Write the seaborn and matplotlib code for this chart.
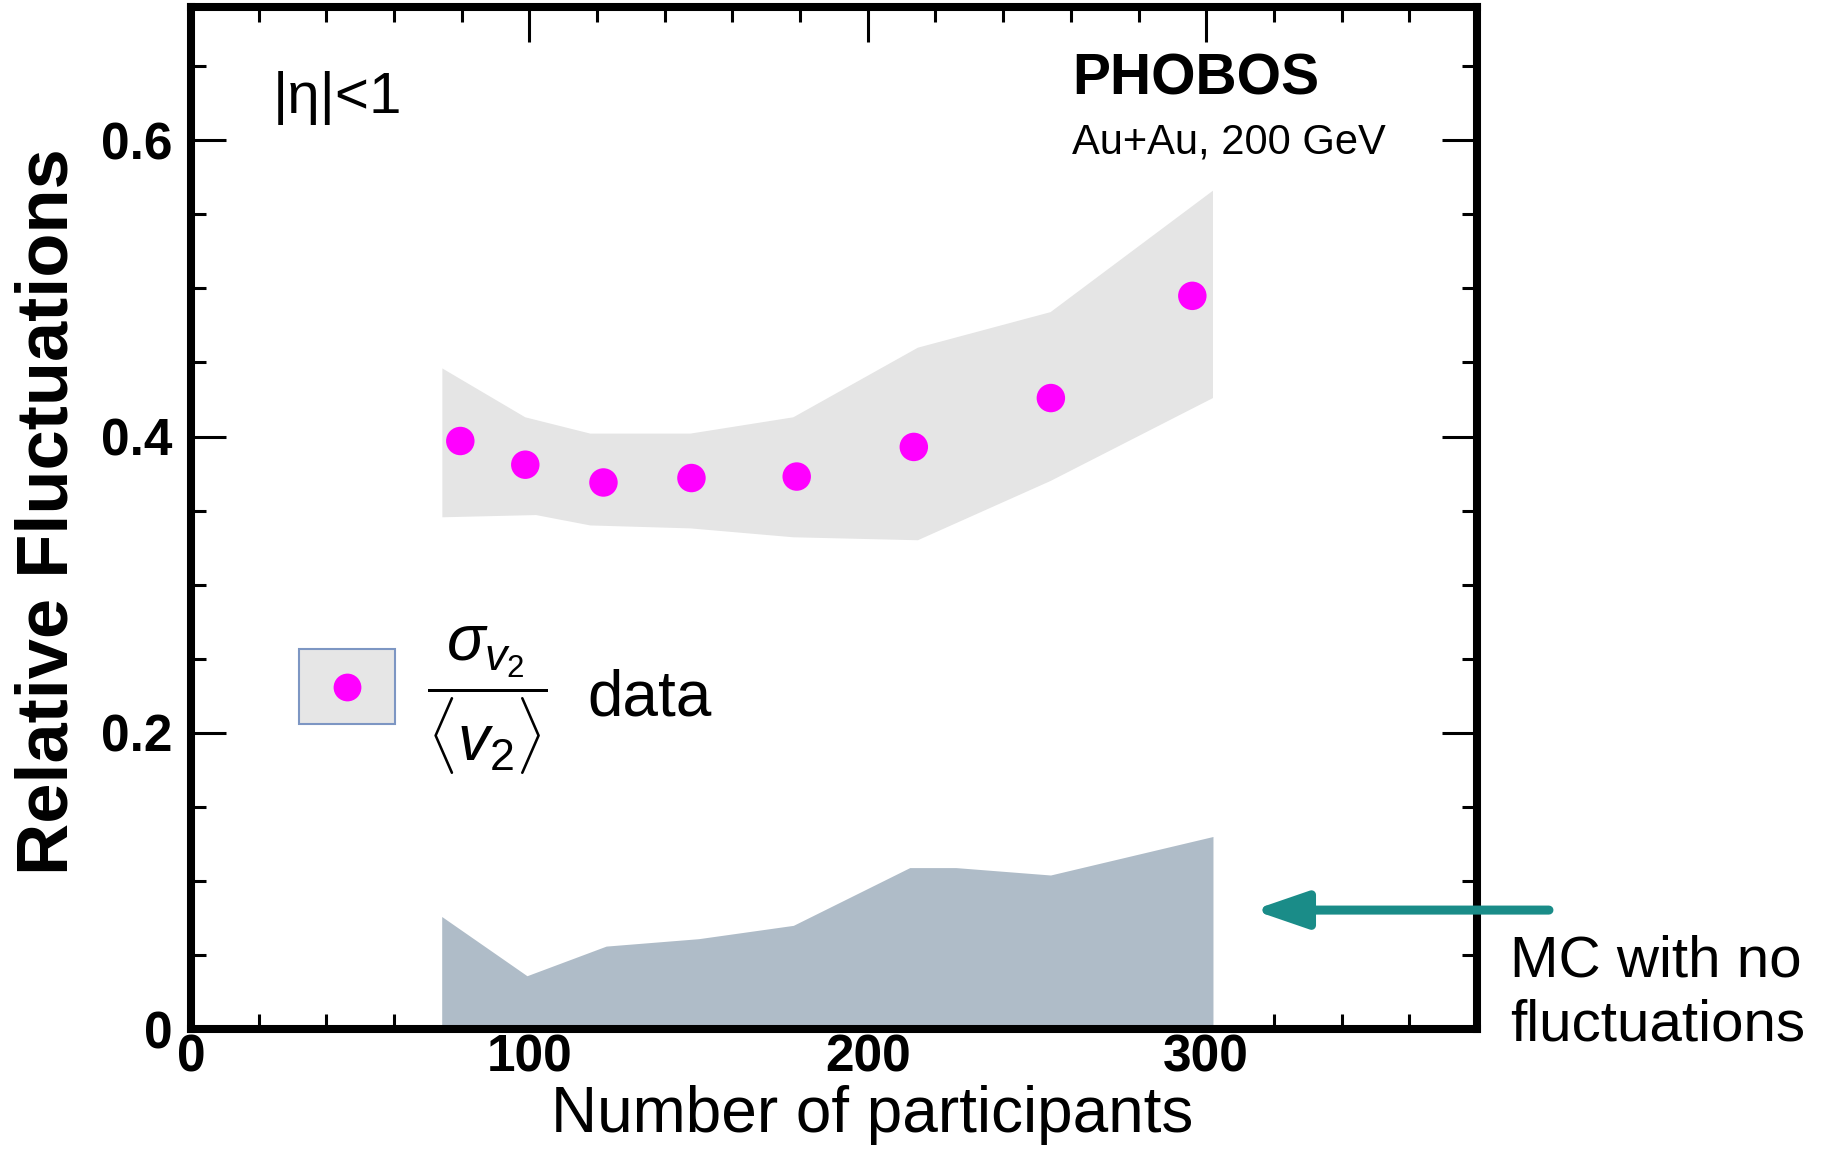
import numpy as np
import pandas as pd
import matplotlib
matplotlib.use("Agg")
import matplotlib.pyplot as plt
import seaborn as sns
from matplotlib import font_manager as fm
from matplotlib.patches import Patch, ArrowStyle
from matplotlib.lines import Line2D
from matplotlib.legend_handler import HandlerTuple, HandlerLine2D
from matplotlib.ticker import MultipleLocator

# Relative elliptic-flow fluctuations vs. centrality (mean Npart per bin)
npart = [79.6, 98.8, 121.9, 147.9, 179.0, 213.6, 254.1, 295.9]
rel_fluct = [0.397, 0.381, 0.369, 0.372, 0.373, 0.393, 0.426, 0.495]

# Systematic-uncertainty band of the data (upper / lower edges)
band_up_npart = [74.3, 98.8, 118.0, 147.6, 178.0, 214.8, 254.0, 302.0]
band_up = [0.446, 0.413, 0.402, 0.402, 0.413, 0.460, 0.484, 0.566]
band_lo_npart = [74.3, 102.0, 118.0, 147.6, 178.0, 214.8, 254.0, 302.0]
band_lo = [0.3455, 0.347, 0.340, 0.338, 0.332, 0.330, 0.370, 0.426]

# Monte Carlo without intrinsic fluctuations (upper edge of shaded region)
mc_npart = [74.1, 99.3, 122.7, 150.0, 178.0, 212.4, 226.0, 254.0, 302.0]
mc_fluct = [0.076, 0.036, 0.056, 0.061, 0.070, 0.109, 0.109, 0.104, 0.130]

x_ticks = [0, 100, 200, 300]
x_tick_labels = ["0", "100", "200", "300"]
y_ticks = [0, 0.2, 0.4, 0.6]
y_tick_labels = ["0", "0.2", "0.4", "0.6"]

sns.set_theme(style="ticks")
plt.rcParams["font.family"] = ["Liberation Sans", "DejaVu Sans"]
plt.rcParams["text.color"] = "black"
plt.rcParams["axes.labelcolor"] = "black"
plt.rcParams["axes.edgecolor"] = "black"
plt.rcParams["xtick.color"] = "black"
plt.rcParams["ytick.color"] = "black"
plt.rcParams["mathtext.fontset"] = "custom"
plt.rcParams["mathtext.rm"] = "Liberation Sans"
plt.rcParams["mathtext.it"] = "Liberation Sans:italic"
plt.rcParams["mathtext.bf"] = "Liberation Sans:bold"

# condensed bold face for the tick numbers when available
installed = {f.name for f in fm.fontManager.ttflist}
if "Liberation Sans Narrow" in installed:
    tick_font = dict(fontsize=41, fontweight="bold", family="Liberation Sans Narrow")
else:
    tick_font = dict(fontsize=37, fontweight="bold", family="Liberation Sans")


class CenteredMarkerHandler(HandlerLine2D):
    """Legend marker centred vertically on the key box."""

    def create_artists(self, legend, orig_handle, xdescent, ydescent,
                       width, height, fontsize, trans):
        artists = super().create_artists(legend, orig_handle, xdescent, ydescent,
                                         width, height, fontsize, trans)
        for a in artists:
            a.set_ydata(np.asarray(a.get_ydata()) - ydescent / 2.0)
        return artists


fig = plt.figure(figsize=(18.27, 11.49), dpi=100, facecolor="white")
ax = fig.add_axes([0.1045, 0.1044, 0.7039, 0.8895])
ax.set_facecolor("white")

# data systematic band
band_x = np.r_[band_up_npart, band_lo_npart[::-1]]
band_y = np.r_[band_up, band_lo[::-1]]
ax.fill(band_x, band_y, color="#E5E5E5", lw=0, zorder=1)

# MC region
ax.fill_between(mc_npart, 0, mc_fluct, color="#AFBCC8", lw=0, zorder=1)

# data points
df = pd.DataFrame({"npart": npart, "fluct": rel_fluct})
sns.scatterplot(data=df, x="npart", y="fluct", color="#FF00FF", s=420,
                edgecolor="none", zorder=5, ax=ax, legend=False)

ax.set_xlim(0, 380)
ax.set_ylim(0, 0.69)

ax.set_xticks(x_ticks, labels=x_tick_labels, **tick_font)
ax.set_yticks(y_ticks, labels=y_tick_labels, **tick_font)
ax.xaxis.set_minor_locator(MultipleLocator(20))
ax.yaxis.set_minor_locator(MultipleLocator(0.05))
ax.tick_params(which="both", direction="in", top=True, right=True,
               width=2.2, color="black", labelcolor="black")
ax.tick_params(which="major", length=25)
ax.tick_params(which="minor", length=11)
ax.tick_params(axis="x", which="major", pad=3)
ax.tick_params(axis="y", which="major", pad=13)

for sp in ax.spines.values():
    sp.set_linewidth(5.8)
    sp.set_color("black")
    sp.set_zorder(6)

ax.set_xlabel("Number of participants", fontsize=46, va="baseline")
ax.xaxis.set_label_coords(0.53, -0.1008)
ax.set_ylabel("Relative Fluctuations", fontsize=52, fontweight="bold", va="center")
ax.yaxis.set_label_coords(-0.111, 0.506)

# header annotations
ax.text(0.0638, 0.896, "|η|<1", fontsize=42, transform=ax.transAxes, va="baseline")
ax.text(0.685, 0.914, "PHOBOS", fontsize=41, fontweight="bold",
        transform=ax.transAxes, va="baseline")
ax.text(0.685, 0.857, "Au+Au, 200 GeV", fontsize=30,
        transform=ax.transAxes, va="baseline")

# legend key: grey box with magenta marker on top
key = (Patch(facecolor="#E6E6E6", edgecolor="#7D96C3", lw=1.5),
       Line2D([], [], ls="none", marker="o", ms=20, mfc="#FF00FF", mec="none"))
ax.legend([key], [""],
          handler_map={tuple: HandlerTuple(ndivide=1, pad=0),
                       Line2D: CenteredMarkerHandler()},
          loc="lower left", bbox_to_anchor=(0.084, 0.298),
          bbox_transform=ax.transAxes, fontsize=40, frameon=False,
          borderpad=0, borderaxespad=0, handlelength=1.73,
          handleheight=1.726, handletextpad=0, numpoints=1)

ax.text(0.2302, 0.3209, r"$\dfrac{\sigma_{v_2}}{\langle v_2 \rangle}$",
        fontsize=46, transform=ax.transAxes, ha="center", va="center")
ax.text(0.308, 0.3072, "data", fontsize=46, transform=ax.transAxes, va="baseline")

# MC label and arrow
ax.text(1.0257, -0.0108, "MC with no\nfluctuations", fontsize=42,
        transform=ax.transAxes, va="baseline", linespacing=1.22, clip_on=False)
ax.annotate("", xy=(0.826, 0.1164), xytext=(1.056, 0.1164),
            xycoords="axes fraction", textcoords="axes fraction",
            arrowprops=dict(arrowstyle=ArrowStyle("-|>", head_length=1.6, head_width=0.55),
                            mutation_scale=20, lw=6.5, color="#1A8C88",
                            shrinkA=0, shrinkB=0),
            annotation_clip=False, zorder=10)

fig.savefig("out.png", dpi=100, facecolor="white")
